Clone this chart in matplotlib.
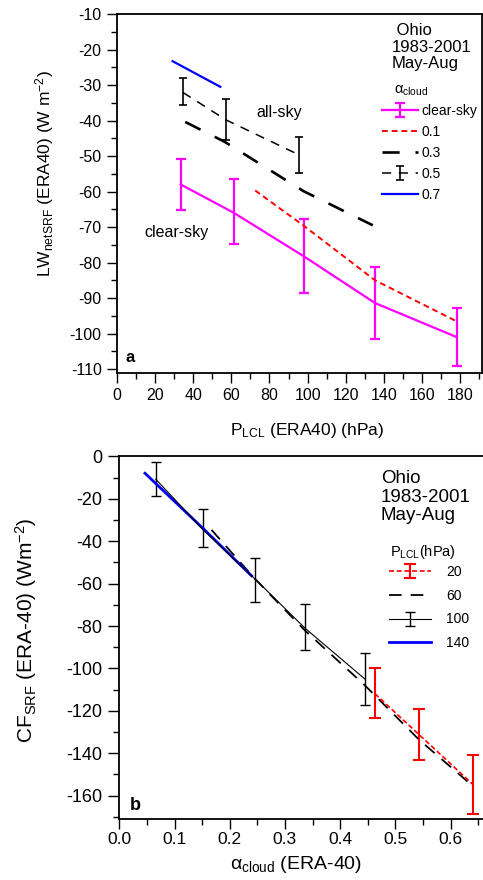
import matplotlib
matplotlib.use("Agg")
import numpy as np
import matplotlib.pyplot as plt
from matplotlib.ticker import MultipleLocator, FormatStrFormatter

plt.rcParams['font.family'] = ['Liberation Sans', 'DejaVu Sans']
plt.rcParams['mathtext.fontset'] = 'custom'
plt.rcParams['mathtext.rm'] = 'Liberation Sans'
plt.rcParams['mathtext.it'] = 'Liberation Sans:italic'
plt.rcParams['mathtext.default'] = 'regular'
plt.rcParams['axes.unicode_minus'] = False

# ---------------- panel a data ----------------
a_clear_x = [33.4, 61.3, 97.9, 135.4, 178.3]
a_clear_y = [-58.0, -66.0, -78.2, -91.4, -101.0]
a_clear_lo = [-65.2, -74.9, -88.7, -101.4, -109.2]
a_clear_hi = [-50.7, -56.6, -67.7, -81.3, -92.9]

a_01_x = [72.5, 97.9, 135.4, 178.0]
a_01_y = [-59.7, -69.6, -85.0, -96.5]

a_03_x = [35.8, 56.5, 97.9, 134.2]
a_03_y = [-40.4, -46.0, -59.9, -69.5]

a_05_x = [34.6, 57.1, 95.6]
a_05_y = [-32.1, -39.8, -49.7]
a_05_lo = [-35.7, -45.6, -54.9]
a_05_hi = [-27.9, -34.0, -44.5]

a_07_x = [29.2, 54.2]
a_07_y = [-23.3, -30.5]

# ---------------- panel b data ----------------
b_20_x = [0.463, 0.543, 0.641]
b_20_y = [-111.9, -131.2, -154.8]
b_20_lo = [-123.5, -143.0, -168.6]
b_20_hi = [-99.6, -119.1, -141.0]

b_60_x = [0.167, 0.245, 0.336, 0.445, 0.543, 0.641]
b_60_y = [-34.6, -57.5, -82.0, -108.0, -133.6, -155.6]

b_100_x = [0.066, 0.152, 0.246, 0.336, 0.445]
b_100_y = [-10.7, -34.6, -57.8, -80.9, -105.0]
b_100_lo = [-18.4, -42.6, -68.7, -91.3, -117.2]
b_100_hi = [-2.8, -25.0, -48.1, -69.5, -92.7]

b_140_x = [0.0465, 0.152, 0.2396]
b_140_y = [-7.9, -34.0, -56.3]


def yerr(y, lo, hi):
    y = np.array(y)
    return [y - np.array(lo), np.array(hi) - y]


W, H = 483, 880
fig = plt.figure(figsize=(W / 100, H / 100), dpi=100)

# ================= panel a =================
ax1 = fig.add_axes([117 / W, 1 - 373 / H, (482 - 117) / W, (373 - 14) / H])

h_clear = ax1.errorbar(a_clear_x, a_clear_y, yerr=yerr(a_clear_y, a_clear_lo, a_clear_hi),
                       color='#ff00ff', lw=1.6, elinewidth=1.6, capsize=3.5, capthick=1.6,
                       label='clear-sky')
h01, = ax1.plot(a_01_x, a_01_y, color='#ff0000', lw=1.4, dashes=(3, 2), label='0.1')
h03, = ax1.plot(a_03_x, a_03_y, color='black', lw=1.9, dashes=(6.5, 6), label='0.3')
h05 = ax1.errorbar(a_05_x, a_05_y, yerr=yerr(a_05_y, a_05_lo, a_05_hi),
                   color='black', lw=1.1, elinewidth=1.2, capsize=3, capthick=1.2,
                   dashes=(6, 5), label='0.5')
h07, = ax1.plot(a_07_x, a_07_y, color='#0000ff', lw=1.6, label='0.7')

ax1.set_xlim(0, 191.5)
ax1.set_ylim(-111.1, -10)
ax1.xaxis.set_major_locator(MultipleLocator(20))
ax1.xaxis.set_minor_locator(MultipleLocator(10))
ax1.yaxis.set_major_locator(MultipleLocator(10))
ax1.yaxis.set_minor_locator(MultipleLocator(5))
ax1.tick_params(which='both', direction='out', top=False, right=False, width=1)
ax1.tick_params(which='major', length=7, labelsize=11.5, pad=4)
ax1.tick_params(which='minor', length=4)
for s in ax1.spines.values():
    s.set_linewidth(1.3)

ax1.text(73, -37.8, 'all-sky', fontsize=11.5, va='center', ha='left')
ax1.text(14.3, -71.4, 'clear-sky', fontsize=11.5, va='center', ha='left')
ax1.text(0.022, 0.042, 'a', transform=ax1.transAxes, fontsize=12, fontweight='bold',
         va='center', ha='left')
ax1.text(392 / W, 1 - 47 / H, ' Ohio\n1983-2001\nMay-Aug', transform=fig.transFigure,
         fontsize=12, va='center', ha='left', linespacing=1.15)
ax1.text(394 / W, 1 - 91 / H, r'$\alpha_{cloud}$', transform=fig.transFigure,
         fontsize=10.5, va='center', ha='left')

ax1.legend(handles=[h_clear, h01, h03, h05, h07], loc='upper left',
           bbox_to_anchor=((382 - 117) / 365, 1 - (104 - 14) / 359),
           frameon=False, fontsize=10, handlelength=2.6, handletextpad=0.25,
           labelspacing=0.5, borderpad=0, borderaxespad=0)

fig.text(50 / W, 1 - 174 / H, r'LW$_{netSRF}$ (ERA40) (W m$^{-2}$)', rotation=90,
         rotation_mode='anchor', ha='center', va='baseline', fontsize=12.5)
fig.text(307 / W, 1 - 435 / H, r'P$_{LCL}$ (ERA40) (hPa)', ha='center', va='baseline',
         fontsize=12.5)

# ================= panel b =================
ax2 = fig.add_axes([119.3 / W, 1 - 819 / H, (490 - 119.3) / W, (819 - 456.5) / H])

h20 = ax2.errorbar(b_20_x, b_20_y, yerr=yerr(b_20_y, b_20_lo, b_20_hi),
                   color='#ff0000', lw=1.2, elinewidth=1.5, capsize=4, capthick=1.5,
                   dashes=(3, 1.6), label='20')
h60, = ax2.plot(b_60_x, b_60_y, color='black', lw=1.3, dashes=(7, 5), label='60')
h100 = ax2.errorbar(b_100_x, b_100_y, yerr=yerr(b_100_y, b_100_lo, b_100_hi),
                    color='black', lw=0.8, elinewidth=1.0, capsize=3.5, capthick=1.0,
                    label='100')
h140, = ax2.plot(b_140_x, b_140_y, color='#0000ff', lw=2.0, label='140')

ax2.set_xlim(0, 0.6715)
ax2.set_ylim(-171, 0)
ax2.xaxis.set_major_locator(MultipleLocator(0.1))
ax2.xaxis.set_minor_locator(MultipleLocator(0.05))
ax2.xaxis.set_major_formatter(FormatStrFormatter('%.1f'))
ax2.yaxis.set_major_locator(MultipleLocator(20))
ax2.yaxis.set_minor_locator(MultipleLocator(10))
ax2.tick_params(which='both', direction='out', top=False, right=False, width=1)
ax2.tick_params(which='major', length=8, labelsize=13, pad=4)
ax2.tick_params(axis='x', which='major', length=7, labelsize=12.5, pad=2.5)
ax2.tick_params(which='minor', length=4)
for s in ax2.spines.values():
    s.set_linewidth(1.3)

ax2.text(0.028, 0.036, 'b', transform=ax2.transAxes, fontsize=13, fontweight='bold',
         va='center', ha='left')
ax2.text(381 / W, 1 - 497 / H, 'Ohio\n1983-2001\nMay-Aug', transform=fig.transFigure,
         fontsize=13.5, va='center', ha='left', linespacing=1.1)
ax2.text(390 / W, 1 - 552 / H, r'P$_{LCL}$(hPa)', transform=fig.transFigure,
         fontsize=10.5, va='center', ha='left')

ax2.legend(handles=[h20, h60, h100, h140], loc='upper left',
           bbox_to_anchor=((389 - 119.3) / 370.7, 1 - (565 - 456.5) / 362.5),
           frameon=False, fontsize=10, handlelength=3.0, handletextpad=1.1,
           labelspacing=0.7, borderpad=0, borderaxespad=0)

fig.text(33 / W, 1 - 630 / H, r'CF$_{SRF}$ (ERA-40) (Wm$^{-2}$)', rotation=90,
         rotation_mode='anchor', ha='center', va='baseline', fontsize=15)
fig.text(296 / W, 1 - 869 / H, r'$\alpha_{cloud}$ (ERA-40)', ha='center', va='baseline',
         fontsize=14)

fig.savefig('out.png', dpi=100)
